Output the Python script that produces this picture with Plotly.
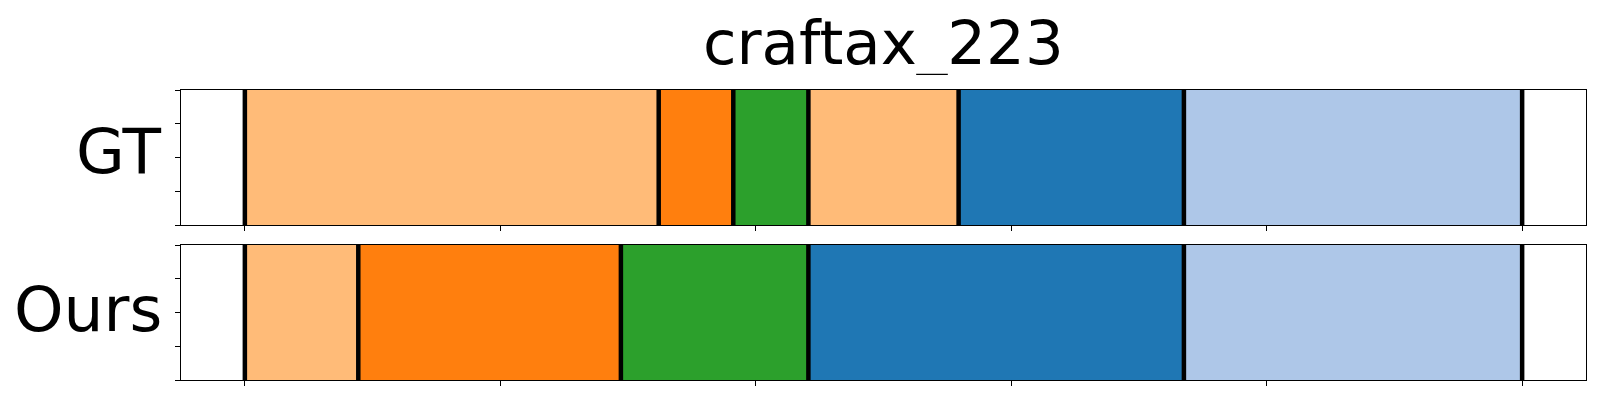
import plotly.graph_objects as go
from plotly.subplots import make_subplots

title = "craftax_223"
row_labels = ["GT", "Ours"]

# segment boundaries (frame index) and segment colour classes
gt_bounds = [0, 81, 95.6, 110.3, 139.7, 183.8, 250]
gt_classes = ["light_orange", "orange", "green", "light_orange", "blue", "light_blue"]
ours_bounds = [0, 22.2, 73.6, 110.3, 183.8, 250]
ours_classes = ["light_orange", "orange", "green", "blue", "light_blue"]

x_ticks = [0, 50, 100, 150, 200, 250]
y_ticks = [0, 0.25, 0.5, 0.75, 1.0]

palette = {
    "blue": "#1f77b4",
    "light_blue": "#aec7e8",
    "orange": "#ff7f0e",
    "light_orange": "#ffbb78",
    "green": "#2ca02c",
}

fig = make_subplots(rows=2, cols=1, vertical_spacing=0.069)

rows = [(gt_bounds, gt_classes), (ours_bounds, ours_classes)]
for r, (bounds, classes) in enumerate(rows, start=1):
    starts = bounds[:-1]
    widths = [b - a for a, b in zip(bounds[:-1], bounds[1:])]
    fig.add_trace(
        go.Bar(
            y=[0.5] * len(starts),
            x=widths,
            base=starts,
            orientation="h",
            width=1.0,
            marker=dict(color=[palette[c] for c in classes], line=dict(width=0)),
            showlegend=False,
            hoverinfo="skip",
        ),
        row=r, col=1,
    )
    for b in bounds:
        fig.add_shape(type="line", x0=b, x1=b, y0=0, y1=1,
                      line=dict(color="black", width=4.5), row=r, col=1)

axis_common = dict(showline=True, mirror=True, linecolor="black", linewidth=1,
                   showgrid=False, zeroline=False, ticks="outside", ticklen=5,
                   tickwidth=1, tickcolor="black", showticklabels=False)
for r in (1, 2):
    fig.update_xaxes(range=[-12.5, 262.5], tickvals=x_ticks, row=r, col=1, **axis_common)
    fig.update_yaxes(range=[0, 1], tickvals=y_ticks, row=r, col=1, **axis_common)

fig.update_layout(
    width=1600, height=400,
    margin=dict(l=173, r=22, t=82, b=28),
    paper_bgcolor="white", plot_bgcolor="white",
    bargap=0, barmode="overlay",
    font=dict(family="DejaVu Sans", color="black"),
)
fig.layout.yaxis.domain = [0.5345, 1.0]
fig.layout.yaxis2.domain = [0.0, 0.4655]

fig.add_annotation(text=title, xref="paper", yref="paper", x=0.5, y=(380 - 42) / 290,
                   xanchor="center", yanchor="middle", showarrow=False,
                   height=66, valign="middle", borderpad=0,
                   font=dict(size=61, family="DejaVu Sans", color="black"))
label_y = [(380 - 151) / 290, (380 - 309.7) / 290]
for lab, yy in zip(row_labels, label_y):
    fig.add_annotation(text=lab, xref="paper", yref="paper", x=(164 - 181) / 1405, y=yy,
                       xanchor="right", yanchor="middle", showarrow=False,
                       font=dict(size=63, family="DejaVu Sans", color="black"))

fig.write_html("out.html")
